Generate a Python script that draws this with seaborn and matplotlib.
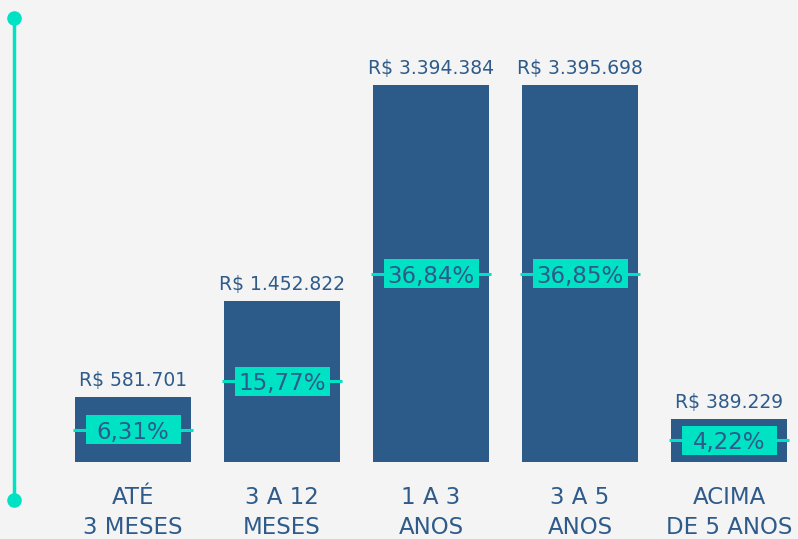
import matplotlib.pyplot as plt
import seaborn as sns
from matplotlib.patches import Rectangle

categories = ["ATÉ\n3 MESES", "3 A 12\nMESES", "1 A 3\nANOS", "3 A 5\nANOS", "ACIMA\nDE 5 ANOS"]
values = [581701, 1452822, 3394384, 3395698, 389229]
value_labels = ["R$ 581.701", "R$ 1.452.822", "R$ 3.394.384", "R$ 3.395.698", "R$ 389.229"]
pct_labels = ["6,31%", "15,77%", "36,84%", "36,85%", "4,22%"]

BG = "#f4f4f4"
BAR = "#2c5b8a"
TEAL = "#00e2c4"
TXT = "#2e5b8a"

W, H = 798, 539
# pixel layout of the original
X0, DX = 133.0, 149.0       # first bar centre, bar spacing
BASE = 462.0                # baseline pixel row
PX_PER_UNIT = 377.0 / 3395698

sns.set_theme(style="white")
plt.rcParams["font.family"] = ["DejaVu Sans"]

fig = plt.figure(figsize=(W / 100, H / 100), dpi=100, facecolor=BG)
ax = fig.add_axes([0, 0, 1, 1])

sns.barplot(x=categories, y=values, color=BAR, saturation=1, width=0.785,
            linewidth=0, ax=ax)

ax.set_xlim(-X0 / DX, (W - X0) / DX)
ax.set_ylim(-(H - BASE) / PX_PER_UNIT, BASE / PX_PER_UNIT)
ax.axis("off")

px_y = 1 / PX_PER_UNIT      # one pixel in y data units
px_x = 1 / DX               # one pixel in x data units

for i, (v, vl, pl, cat) in enumerate(zip(values, value_labels, pct_labels, categories)):
    mid = v / 2
    # teal line across bar
    ax.plot([i - 0.785 / 2 - 2 * px_x, i + 0.785 / 2 + 2 * px_x], [mid, mid],
            color=TEAL, lw=2.2, solid_capstyle="butt", zorder=3)
    bw, bh = 95 * px_x, 29 * px_y
    ax.add_patch(Rectangle((i - bw / 2, mid - bh / 2), bw, bh, facecolor=TEAL,
                           edgecolor="none", zorder=4))
    ax.text(i, mid, pl, ha="center", va="center_baseline", fontsize=16.5,
            color=TXT, zorder=5)
    ax.text(i, v + 11 * px_y, vl, ha="center", va="baseline", fontsize=13.5, color=TXT)
    l1, l2 = cat.split("\n")
    ax.text(i, -(498 - BASE) * px_y, l1, ha="center", va="center",
            fontsize=16.5, color=TXT)
    ax.text(i, -(527 - BASE) * px_y, l2, ha="center", va="center",
            fontsize=16.5, color=TXT)

# vertical scale line with dots
ax.plot([14 / W, 14 / W], [1 - 18 / H, 1 - 500 / H], transform=ax.transAxes,
        color=TEAL, lw=2.5, clip_on=False)
ax.scatter([14 / W, 14 / W], [1 - 18 / H, 1 - 500 / H], transform=ax.transAxes,
           s=110, color=TEAL, zorder=5, clip_on=False, linewidths=0)

fig.savefig("out.png", dpi=100, facecolor=BG)
plt.close(fig)
